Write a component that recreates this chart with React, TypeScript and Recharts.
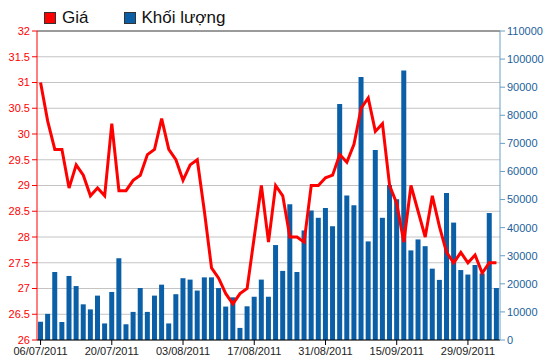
import { ComposedChart, Bar, Line, XAxis, YAxis, CartesianGrid, ReferenceLine } from "recharts";

// trading days, 06/07/2011 - 05/10/2011
const dates = [
  "06/07/2011", "07/07/2011", "08/07/2011", "11/07/2011", "12/07/2011", "13/07/2011", "14/07/2011", "15/07/2011",
  "18/07/2011", "19/07/2011", "20/07/2011", "21/07/2011", "22/07/2011", "25/07/2011", "26/07/2011", "27/07/2011",
  "28/07/2011", "29/07/2011", "01/08/2011", "02/08/2011", "03/08/2011", "04/08/2011", "05/08/2011", "08/08/2011",
  "09/08/2011", "10/08/2011", "11/08/2011", "12/08/2011", "15/08/2011", "16/08/2011", "17/08/2011", "18/08/2011",
  "19/08/2011", "22/08/2011", "23/08/2011", "24/08/2011", "25/08/2011", "26/08/2011", "29/08/2011", "30/08/2011",
  "31/08/2011", "01/09/2011", "05/09/2011", "06/09/2011", "07/09/2011", "08/09/2011", "09/09/2011", "12/09/2011",
  "13/09/2011", "14/09/2011", "15/09/2011", "16/09/2011", "19/09/2011", "20/09/2011", "21/09/2011", "22/09/2011",
  "23/09/2011", "26/09/2011", "27/09/2011", "28/09/2011", "29/09/2011", "30/09/2011", "03/10/2011", "04/10/2011",
  "05/10/2011",
];

const price = [
  31.0, 30.25, 29.7, 29.7, 28.95, 29.4, 29.2, 28.8, 28.95, 28.8, 30.2, 28.9, 28.9, 29.1, 29.2, 29.6,
  29.7, 30.3, 29.7, 29.5, 29.1, 29.4, 29.5, 28.5, 27.4, 27.2, 26.9, 26.7, 26.9, 27.0, 28.0, 29.0,
  27.9, 29.0, 28.8, 28.0, 28.0, 27.9, 29.0, 29.0, 29.15, 29.2, 29.6, 29.45, 29.8, 30.5, 30.7, 30.05,
  30.2, 29.0, 28.65, 27.9, 29.0, 28.5, 28.0, 28.8, 28.2, 27.7, 27.5, 27.7, 27.5, 27.65, 27.3, 27.5,
  27.5,
];

const volume = [
  6500, 9300, 24200, 6400, 22800, 19200, 12700, 10900, 15800, 5900, 17100, 29100, 5600, 10000, 18500, 10000,
  15800, 19700, 5900, 16300, 22000, 21500, 17600, 22300, 22300, 18500, 11900, 15200, 4300, 12000, 15400, 21500,
  15400, 33800, 24600, 48300, 24200, 39000, 46100, 43500, 47000, 40500, 84000, 51400, 48000, 93600, 35100, 67600,
  43500, 55200, 50100, 95900, 31900, 35800, 33400, 25400, 21400, 52300, 41800, 24900, 23300, 26700, 23700, 45200,
  18500,
];

const xTicks = ["06/07/2011", "20/07/2011", "03/08/2011", "17/08/2011", "31/08/2011", "15/09/2011", "29/09/2011"];
const priceTicks = [26, 26.5, 27, 27.5, 28, 28.5, 29, 29.5, 30, 30.5, 31, 31.5, 32];
const volumeTicks = [0, 10000, 20000, 30000, 40000, 50000, 60000, 70000, 80000, 90000, 100000, 110000];

const data = dates.map((d, i) => ({ date: d, price: price[i], volume: volume[i] }));

const font = "'Liberation Sans', Arial, sans-serif";

export default function App() {
  return (
    <div style={{ position: "absolute", left: 0, top: 0, width: 550, height: 364, background: "#fff", fontFamily: font }}>
      <div style={{ position: "absolute", left: 44, top: 8, display: "flex", alignItems: "center", fontSize: 17, color: "#111", zIndex: 2 }}>
        <span style={{ width: 10, height: 10, background: "#ff0000", border: "1px solid #333", marginRight: 6 }} />
        <span style={{ marginRight: 36 }}>Giá</span>
        <span style={{ width: 10, height: 10, background: "#0a5fa6", border: "1px solid #333", marginRight: 5 }} />
        <span>Khối lượng</span>
      </div>
      <ComposedChart width={550} height={364} data={data} margin={{ top: 31, right: 0, bottom: 0, left: 0 }}>
        <CartesianGrid vertical={false} stroke="#c4c4c4" yAxisId="left" />
        <XAxis
          dataKey="date"
          ticks={xTicks}
          interval={0}
          height={24}
          stroke="#000"
          tickSize={5}
          tickMargin={2}
          tick={{ fill: "#222", fontSize: 11 }}
        />
        <YAxis
          yAxisId="left"
          domain={[26, 32]}
          ticks={priceTicks}
          width={37}
          stroke="#ff0000"
          tickSize={5}
          tickMargin={2}
          tick={{ fill: "#ff0000", fontSize: 11 }}
        />
        <YAxis
          yAxisId="right"
          orientation="right"
          domain={[0, 110000]}
          ticks={volumeTicks}
          width={50}
          stroke="#6a9ec6"
          tickSize={5}
          tickMargin={2}
          tick={{ fill: "#1d5f9b", fontSize: 11 }}
        />
        <ReferenceLine yAxisId="left" y={32} stroke="#555" />
        <Bar yAxisId="right" dataKey="volume" fill="#0a5fa6" barSize={5} isAnimationActive={false} />
        <Line
          yAxisId="left"
          type="linear"
          dataKey="price"
          stroke="#ff0000"
          strokeWidth={3}
          dot={false}
          isAnimationActive={false}
        />
      </ComposedChart>
    </div>
  );
}
